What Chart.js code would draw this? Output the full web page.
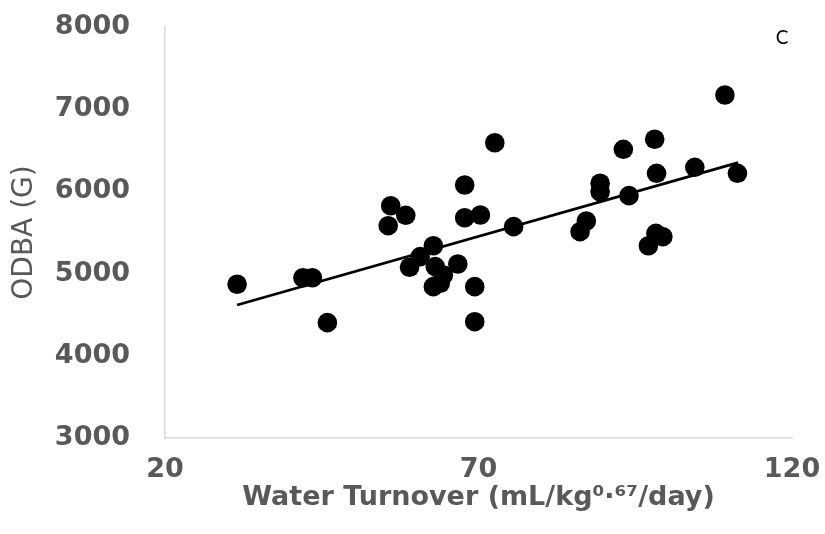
<!DOCTYPE html>
<html>
<head>
<meta charset="utf-8">
<script src="https://cdn.jsdelivr.net/npm/chart.js@4"></script>
<style>
  html, body { margin: 0; padding: 0; background: #fff; }
  #wrap { width: 825px; height: 534px; }
</style>
</head>
<body>
<div id="wrap"><canvas id="odbaChart" width="825" height="534"></canvas></div>
<script>
// water turnover (mL/kg^0.67/day) for each animal
const waterTurnover = [31.5, 42.0, 43.5, 45.9, 56.0, 58.4, 55.6, 62.8, 60.7, 59.0,
                       63.1, 64.4, 66.7, 62.8, 63.9, 69.4, 69.4, 67.8, 67.8, 70.3,
                       72.6, 75.6, 87.2, 86.2, 89.4, 89.4, 94.0, 93.1, 98.1, 98.4,
                       98.3, 99.4, 97.1, 104.5, 109.3, 111.3];
// ODBA (G) for the same animals
const odba = [4870, 4950, 4950, 4403, 5826, 5709, 5583, 5339, 5206, 5077,
              5085, 4983, 5117, 4841, 4882, 4841, 4415, 6078, 5680, 5713,
              6592, 5571, 5640, 5510, 6099, 5996, 5948, 6512, 6634, 6220,
              5490, 5449, 5339, 6293, 7173, 6220];

// linear trendline end points
const trendX = [31.5, 111.4];
const trendY = [4618, 6349];

const xTicks = [20, 70, 120];
const yTicks = [3000, 4000, 5000, 6000, 7000, 8000];

const grey = '#595959';

const points = waterTurnover.map((x, i) => ({ x: x, y: odba[i] }));
const trend = trendX.map((x, i) => ({ x: x, y: trendY[i] }));

// panel letter in the top right corner
const panelLabel = {
    id: 'panelLabel',
    afterDraw(chart) {
        const ctx = chart.ctx;
        ctx.save();
        ctx.fillStyle = '#000';
        ctx.font = '19px Lato';
        ctx.textAlign = 'center';
        ctx.textBaseline = 'middle';
        ctx.fillText('C', 782, 38);
        ctx.restore();
    }
};

const ctx = document.getElementById('odbaChart').getContext('2d');
new Chart(ctx, {
    type: 'scatter',
    data: {
        datasets: [
            {
                label: 'ODBA',
                data: points,
                backgroundColor: '#000',
                borderColor: '#000',
                borderWidth: 0,
                pointRadius: 9.8,
                pointHoverRadius: 9.8,
                order: 2
            },
            {
                label: 'Trend',
                type: 'line',
                data: trend,
                borderColor: '#000',
                borderWidth: 2.8,
                pointRadius: 0,
                fill: false,
                order: 1
            }
        ]
    },
    options: {
        responsive: false,
        animation: false,
        layout: { padding: { top: 27, right: 33, bottom: 0, left: 0 } },
        plugins: {
            legend: { display: false },
            tooltip: { enabled: false }
        },
        scales: {
            x: {
                type: 'linear',
                min: 20,
                max: 120,
                afterBuildTicks: (scale) => { scale.ticks = xTicks.map(v => ({ value: v })); },
                afterFit: (scale) => { scale.height = 96; },
                // ticks are hidden, their length only spaces the labels
                grid: { display: false, drawTicks: true, tickLength: 16 },
                border: { display: true, color: '#d9d9d9', width: 1.5 },
                ticks: {
                    color: grey,
                    padding: 0,
                    font: { family: 'DejaVu Sans', size: 27, weight: 'bold' },
                    maxRotation: 0,
                    callback: (v) => String(v)
                },
                title: {
                    display: true,
                    text: 'Water Turnover (mL/kg⁰·⁶⁷/day)',
                    color: grey,
                    font: { family: 'DejaVu Sans', size: 27, weight: 'bold' },
                    padding: { top: 0, bottom: 20 }
                }
            },
            y: {
                type: 'linear',
                min: 3000,
                max: 8000,
                afterBuildTicks: (scale) => { scale.ticks = yTicks.map(v => ({ value: v })); },
                afterFit: (scale) => { scale.width = 165; },
                grid: { display: false, drawTicks: true, tickLength: 35 },
                border: { display: true, color: '#d9d9d9', width: 1.5 },
                ticks: {
                    color: grey,
                    padding: 0,
                    font: { family: 'DejaVu Sans', size: 27, weight: 'bold' },
                    callback: (v) => String(v)
                },
                title: {
                    display: true,
                    text: 'ODBA (G)',
                    color: grey,
                    font: { family: 'DejaVu Sans', size: 28 },
                    padding: { top: 8, bottom: 0 }
                }
            }
        }
    },
    plugins: [panelLabel]
});
</script>
</body>
</html>
